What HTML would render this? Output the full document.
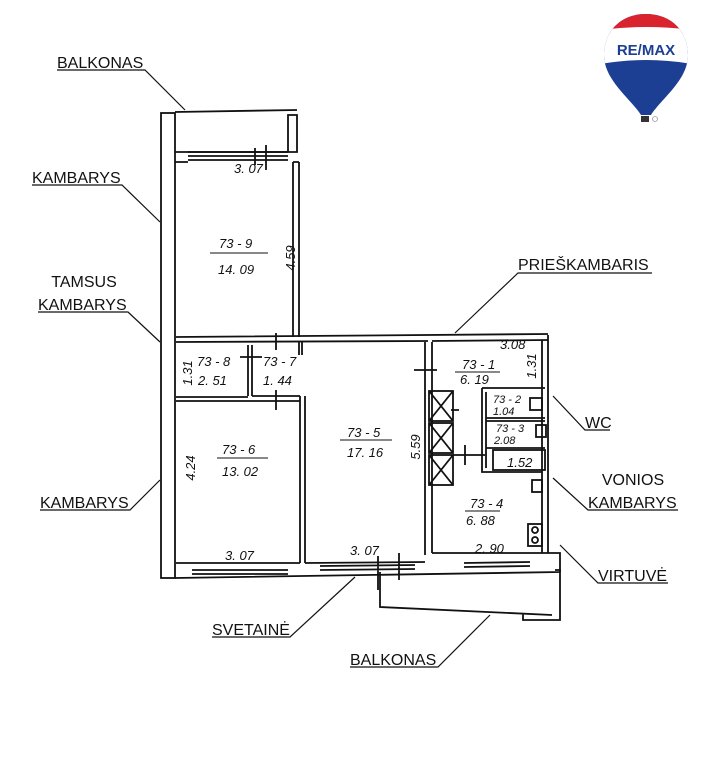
<!DOCTYPE html>
<html><head><meta charset="utf-8"><style>
html,body{margin:0;padding:0;background:#fff;}
svg{display:block;}
text{font-family:"Liberation Sans",sans-serif;}
.l{font-size:16px;fill:#111;}
.d{font-size:13px;fill:#111;font-style:italic;}
</style></head><body>
<svg width="701" height="768" viewBox="0 0 701 768" xmlns="http://www.w3.org/2000/svg">
<g stroke="#111" fill="none" stroke-width="1.8">
<rect x="161" y="113" width="14" height="465"/>
<path d="M175 112 L297 110 M175 152 L290 152 M288 115 L297 115 L297 152 L288 152 Z"/>
<path d="M188 152 L288 152 M188 156 L288 156 M188 160 L288 160 M175 162 L188 162 M255 148 L255 165 M266 145 L266 170"/>
<path d="M293 162 L293 337 M299 162 L299 337 M293 162 L299 162"/>
<path d="M176 337 L548 334 M176 342 L428 341 M432 341 L548 340"/>
<path d="M299 342 L299 355 M302 342 L302 355 M276 333 L276 350"/>
<path d="M542 340 L542 553 M548 335 L548 553"/>
<path d="M248 345 L248 396 M252 345 L252 396 M176 397 L248 397 M176 401 L300 401 M252 396 L300 396 M240 357 L262 357 M276 390 L276 410"/>
<path d="M300 396 L300 563 M305 396 L305 563"/>
<path d="M425 342 L425 555 M432 342 L432 553 M414 370 L437 370"/>
<path d="M176 563 L300 563 M305 563 L425 562 M432 553 L542 553 M175 578 L560 572 M542 553 L560 553 L560 572"/>
<path d="M192 570 L288 570 M192 574 L288 574 M320 566 L415 565 M320 570 L415 569 M464 563 L530 562 M464 567 L530 566 M378 556 L378 590 M399 553 L399 580"/>
<path d="M380 572 L380 607 L552 615 M555 570 L560 570 L560 620 L523 620 L523 613"/>
<rect x="429" y="391" width="24" height="30"/><path d="M429 391 L453 421 M453 391 L429 421"/>
<rect x="429" y="423" width="24" height="30"/><path d="M429 423 L453 453 M453 423 L429 453"/>
<rect x="429" y="455" width="24" height="30"/><path d="M429 455 L453 485 M453 455 L429 485"/>
<path d="M453 455 L485 455 M465 445 L465 465 M451 410 L459 410"/>
<path d="M482 388 L545 388 M482 388 L482 472 L542 472 M486 392 L486 468 M486 418 L545 418 M486 421 L545 421 M486 448 L545 448"/>
<rect x="493" y="450" width="52" height="20"/>
<rect x="530" y="398" width="12" height="12"/><rect x="536" y="425" width="10" height="12"/>
<rect x="532" y="480" width="10" height="12"/>
<rect x="528" y="524" width="14" height="22"/><circle cx="535" cy="530" r="3"/><circle cx="535" cy="540" r="3"/>
</g>
<g class="d">
<text x="234" y="173">3. 07</text>
<text x="219" y="248">73 - 9</text><text x="218" y="274">14. 09</text>
<path d="M210 253 L268 253" stroke="#111"/>
<text x="295" y="258" transform="rotate(-90 295 258)" text-anchor="middle">4.59</text>
<text x="192" y="373" transform="rotate(-90 192 373)" text-anchor="middle">1.31</text>
<text x="197" y="366">73 - 8</text><text x="198" y="385">2. 51</text>
<text x="263" y="366">73 - 7</text><text x="263" y="385">1. 44</text>
<text x="347" y="437">73 - 5</text><text x="347" y="457">17. 16</text>
<path d="M340 440 L392 440" stroke="#111"/>
<text x="420" y="447" transform="rotate(-90 420 447)" text-anchor="middle">5.59</text>
<text x="222" y="454">73 - 6</text><text x="222" y="476">13. 02</text>
<path d="M217 458 L268 458" stroke="#111"/>
<text x="195" y="468" transform="rotate(-90 195 468)" text-anchor="middle">4.24</text>
<text x="225" y="560">3. 07</text><text x="350" y="555">3. 07</text>
<text x="500" y="349">3.08</text>
<text x="462" y="369">73 - 1</text><text x="460" y="384">6. 19</text>
<path d="M455 372 L500 372" stroke="#111"/>
<text x="536" y="366" transform="rotate(-90 536 366)" text-anchor="middle">1.31</text>
<text x="493" y="403" style="font-size:11px">73 - 2</text><text x="493" y="415" style="font-size:11px">1.04</text>
<text x="496" y="432" style="font-size:11px">73 - 3</text><text x="494" y="444" style="font-size:11px">2.08</text>
<text x="507" y="467">1.52</text>
<text x="470" y="508">73 - 4</text><text x="466" y="525">6. 88</text>
<path d="M465 511 L500 511" stroke="#111"/>
<text x="475" y="553">2. 90</text>
</g>
<g class="l">
<text x="57" y="68">BALKONAS</text>
<text x="32" y="183">KAMBARYS</text>
<text x="84" y="287" text-anchor="middle">TAMSUS</text>
<text x="38" y="310">KAMBARYS</text>
<text x="518" y="270">PRIEŠKAMBARIS</text>
<text x="585" y="428">WC</text>
<text x="633" y="485" text-anchor="middle">VONIOS</text>
<text x="588" y="508">KAMBARYS</text>
<text x="40" y="508">KAMBARYS</text>
<text x="598" y="581">VIRTUVĖ</text>
<text x="212" y="635">SVETAINĖ</text>
<text x="350" y="665">BALKONAS</text>
</g>
<g stroke="#111" stroke-width="1.2" fill="none">
<path d="M57 70 L145 70 L185 110"/>
<path d="M32 185 L122 185 L160 222"/>
<path d="M38 312 L128 312 L160 342"/>
<path d="M652 273 L518 273 L455 333"/>
<path d="M610 430 L585 430 L553 396"/>
<path d="M678 510 L588 510 L553 478"/>
<path d="M40 510 L130 510 L160 480"/>
<path d="M668 583 L598 583 L560 545"/>
<path d="M212 637 L290 637 L355 577"/>
<path d="M350 667 L438 667 L490 615"/>
</g>
<defs><clipPath id="bc"><path d="M646 14 C620 14 604 32 604 55 C604 80 630 98 641 115 L651 115 C662 98 688 80 688 55 C688 32 672 14 646 14 Z"/></clipPath></defs>
<g clip-path="url(#bc)">
<rect x="600" y="10" width="92" height="110" fill="#1c3f94"/>
<rect x="600" y="10" width="92" height="24" fill="#d9232e"/>
<path d="M600 30 Q646 24 692 30 L692 64 Q646 56 600 64 Z" fill="#fff"/>
</g>
<text x="646" y="55" text-anchor="middle" style="font-size:15px;font-weight:bold;fill:#1c3f94">RE/MAX</text>
<rect x="641" y="116" width="8" height="6" fill="#333"/>
<circle cx="655" cy="119" r="2.5" fill="none" stroke="#999" stroke-width="0.8"/>
</svg>
</body></html>
